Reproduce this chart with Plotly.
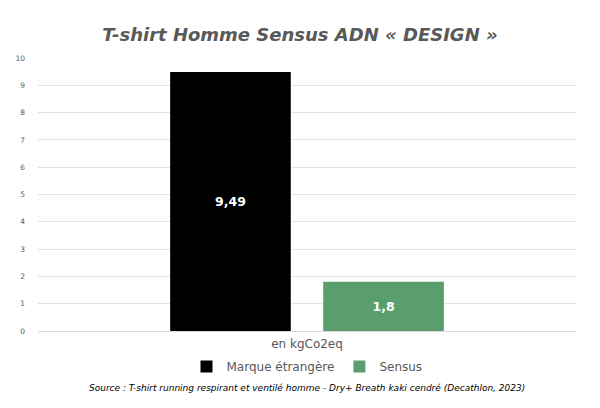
import plotly.graph_objects as go

categories = ["en kgCo2eq"]
series_names = ["Marque étrangère", "Sensus"]
series_values = [[9.49], [1.8]]
series_labels = [["9,49"], ["1,8"]]
series_colors = ["#000000", "#5a9e6e"]
y_ticks = [0, 1, 2, 3, 4, 5, 6, 7, 8, 9, 10]

title_text = "T-shirt Homme Sensus ADN « DESIGN »"
source_text = "Source : T-shirt running respirant et ventilé homme - Dry+ Breath kaki cendré (Decathlon, 2023)"

FONT = "DejaVu Sans, sans-serif"

fig = go.Figure()
for name, vals, labs, col in zip(series_names, series_values, series_labels, series_colors):
    fig.add_trace(go.Bar(
        x=categories, y=vals, name=name, marker=dict(color=col, line=dict(width=0)),
        text=labs, textposition="inside", insidetextanchor="middle",
        textfont=dict(color="white", size=12.5, family=FONT, weight="bold"),
        textangle=0, hoverinfo="skip",
    ))

fig.update_layout(
    width=600, height=408,
    margin=dict(l=38, r=24, t=58, b=77),
    paper_bgcolor="white", plot_bgcolor="white",
    barmode="group", bargap=0.431, bargroupgap=0.212,
    separators=", ",
    title=dict(text="<i><b>" + title_text + "</b></i>", x=0.5, xanchor="center",
               y=0.915, yanchor="middle",
               font=dict(family=FONT, size=18, color="#595959")),
    font=dict(family=FONT, color="#595959"),
    xaxis=dict(showgrid=False, showline=False, ticks="", automargin=False,
               tickfont=dict(size=12, color="#595959"), ticklabelstandoff=4),
    yaxis=dict(range=[0, 10], tickvals=y_ticks, showgrid=True, gridcolor="#e3e3e3", gridwidth=1,
               zeroline=True, zerolinecolor="#d9d9d9", zerolinewidth=1, automargin=False,
               tickfont=dict(size=7.5, color="#595959"), ticks="", ticklabelstandoff=12),
    legend=dict(orientation="h", x=0.5, xanchor="center", y=-0.13, yanchor="middle",
                font=dict(size=12, color="#595959"), itemwidth=30, traceorder="normal"),
    showlegend=True,
    annotations=[dict(text="<i>" + source_text + "</i>", xref="paper", yref="paper",
                      x=0.5, y=-0.21, xanchor="center", yanchor="middle", showarrow=False,
                      font=dict(size=9, color="#000000", family=FONT))],
)

fig.write_html("out.html", config={"displayModeBar": False},
               post_script="document.body.style.margin='0';")
